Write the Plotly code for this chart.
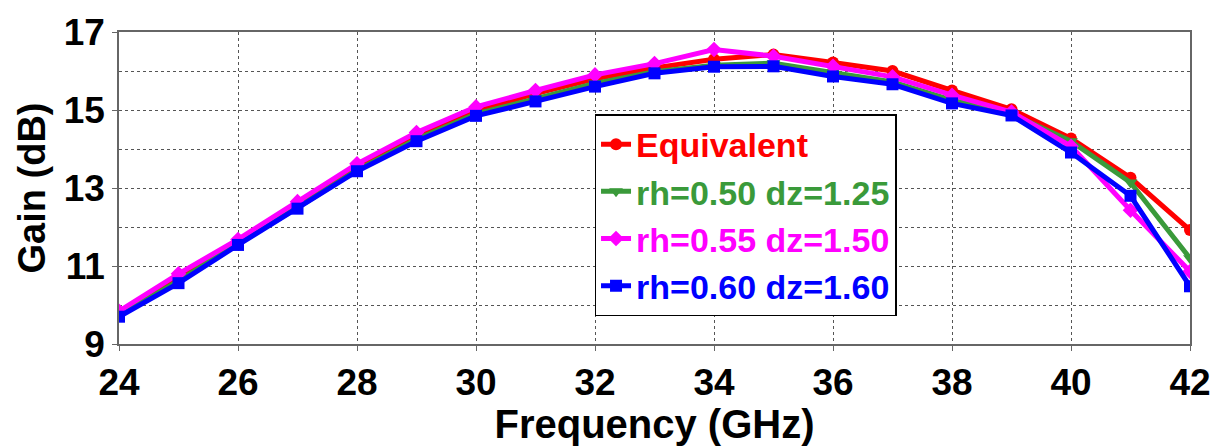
import plotly.graph_objects as go

freq = list(range(24, 43))

gain_equivalent = [9.78, 10.70, 11.62, 12.56, 13.50, 14.30, 14.97, 15.42, 15.80, 16.08,
                   16.30, 16.42, 16.22, 16.00, 15.50, 15.02, 14.27, 13.26, 11.92]
gain_rh050 = [9.74, 10.62, 11.58, 12.50, 13.46, 14.25, 14.90, 15.30, 15.68, 15.98,
              16.15, 16.20, 15.97, 15.72, 15.25, 14.90, 14.20, 13.14, 11.20]
gain_rh055 = [9.84, 10.80, 11.68, 12.65, 13.62, 14.42, 15.08, 15.50, 15.90, 16.19,
              16.55, 16.38, 16.12, 15.85, 15.38, 14.95, 14.07, 12.43, 10.86]
gain_rh060 = [9.70, 10.56, 11.54, 12.47, 13.43, 14.20, 14.85, 15.22, 15.60, 15.94,
              16.11, 16.12, 15.86, 15.66, 15.17, 14.86, 13.91, 12.80, 10.48]

series_names = ["Equivalent", "rh=0.50 dz=1.25", "rh=0.55 dz=1.50", "rh=0.60 dz=1.60"]
series_values = [gain_equivalent, gain_rh050, gain_rh055, gain_rh060]
series_colors = ["#ff0000", "#3a9a3a", "#ff00ff", "#0000ff"]
series_symbols = ["circle", "triangle-down", "diamond", "square"]

x_ticks = [24, 26, 28, 30, 32, 34, 36, 38, 40, 42]
y_ticks = [9, 11, 13, 15, 17]

FONT = "Liberation Sans, Arial, sans-serif"

fig = go.Figure()
for name, vals, color, sym in zip(series_names, series_values, series_colors, series_symbols):
    fig.add_trace(go.Scatter(
        x=freq, y=vals, mode="lines+markers",
        name=f"<span style='color:{color}'>{name}</span>",
        line=dict(color=color, width=5),
        marker=dict(symbol=sym, size=12, color=color),
    ))

fig.update_layout(
    width=1223, height=446,
    margin=dict(l=119, r=25, t=27, b=102),
    paper_bgcolor="white", plot_bgcolor="white",
    font=dict(family=FONT, size=32, color="black", weight=700),
    showlegend=True,
    legend=dict(
        x=0.444, y=0.737, xanchor="left", yanchor="top",
        bgcolor="white", bordercolor="black", borderwidth=1.5,
        font=dict(family=FONT, size=34, weight=700),
        itemwidth=30,
    ),
)

fig.update_xaxes(
    range=[24, 42], tickvals=x_ticks, ticktext=[str(v) for v in x_ticks],
    showline=True, linecolor="#666666", linewidth=1.5, mirror=True,
    showgrid=True, gridcolor="#555555", griddash="dot", gridwidth=1,
    ticks="outside", ticklen=5, tickcolor="#666666",
    tickfont=dict(size=37, weight=700),
    title=dict(text="Frequency (GHz)", font=dict(size=40, weight=700), standoff=2),
    zeroline=False,
)
fig.update_yaxes(
    range=[9, 17], tickvals=y_ticks, ticktext=[str(v) for v in y_ticks],
    showline=True, linecolor="#666666", linewidth=1.5, mirror=True,
    showgrid=True, gridcolor="#555555", griddash="dot", gridwidth=1,
    minor=dict(dtick=1, showgrid=True, gridcolor="#555555", griddash="dot", ticks=""),
    ticks="outside", ticklen=5, tickcolor="#666666",
    tickfont=dict(size=37, weight=700),
    title=dict(text="Gain (dB)", font=dict(size=38, weight=700), standoff=6),
    zeroline=False,
)

fig.write_html("out.html")
